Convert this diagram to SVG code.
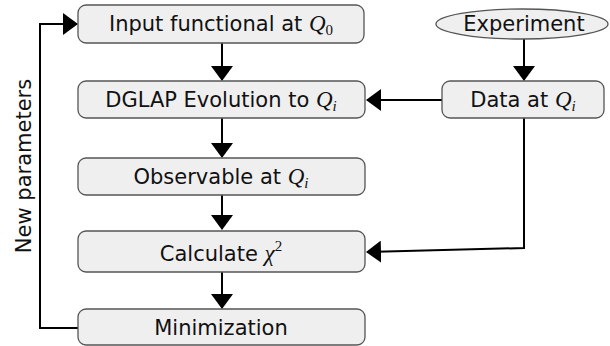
<svg xmlns="http://www.w3.org/2000/svg" width="610" height="346" viewBox="0 0 610 346">
<style>
.box{fill:#efefef;stroke:#555;stroke-width:1.3}
.t{font-family:"DejaVu Sans",sans-serif;font-size:21px;fill:#111;text-anchor:middle}
.m{font-family:"Liberation Serif",serif;font-style:italic;font-size:23px}
.sub{font-family:"Liberation Serif",serif;font-style:italic;font-size:15px}
.sub0{font-family:"Liberation Serif",serif;font-size:15px}
.c{fill:none;stroke:#000;stroke-width:2}
</style>
<defs>
<marker id="ah" markerUnits="userSpaceOnUse" markerWidth="15" markerHeight="22" viewBox="0 0 15 22" refX="14" refY="11" orient="auto">
<path d="M0,0 L15,11 L0,22 z" fill="#000"/>
</marker>
</defs>
<g id="connectors">
<line class="c" x1="222" y1="43" x2="222" y2="80" marker-end="url(#ah)"/>
<line class="c" x1="222" y1="118" x2="222" y2="157" marker-end="url(#ah)"/>
<line class="c" x1="222" y1="195" x2="222" y2="229" marker-end="url(#ah)"/>
<line class="c" x1="222" y1="272" x2="222" y2="308" marker-end="url(#ah)"/>
<line class="c" x1="524" y1="39" x2="524" y2="80" marker-end="url(#ah)"/>
<line class="c" x1="442" y1="100" x2="367" y2="100" marker-end="url(#ah)"/>
<polyline class="c" points="524,118 524,248 367,252" marker-end="url(#ah)"/>
<polyline class="c" points="78,328 40,328 40,24 77,24" marker-end="url(#ah)"/>
</g>
<g id="input">
<rect class="box" x="78" y="5" width="286" height="38" rx="8"/>
<text class="t" x="221" y="31">Input functional at <tspan class="m">Q</tspan><tspan class="sub0" dy="4">0</tspan></text>
</g>
<g id="dglap">
<rect class="box" x="78" y="81" width="287" height="37" rx="8"/>
<text class="t" x="221" y="107">DGLAP Evolution to <tspan class="m">Q</tspan><tspan class="sub" dy="4">i</tspan></text>
</g>
<g id="observable">
<rect class="box" x="78" y="158" width="287" height="37" rx="8"/>
<text class="t" x="221" y="184">Observable at <tspan class="m">Q</tspan><tspan class="sub" dy="4">i</tspan></text>
</g>
<g id="calculate">
<rect class="box" x="78" y="231" width="287" height="41" rx="8"/>
<text class="t" x="221" y="261">Calculate <tspan class="m">χ</tspan><tspan class="sub0" dy="-10">2</tspan></text>
</g>
<g id="minimization">
<rect class="box" x="78" y="309" width="287" height="36" rx="8"/>
<text class="t" x="221" y="335">Minimization</text>
</g>
<g id="experiment">
<ellipse class="box" cx="522" cy="24" rx="86" ry="15"/>
<text class="t" x="524" y="31">Experiment</text>
</g>
<g id="data">
<rect class="box" x="442" y="81" width="162" height="37" rx="8"/>
<text class="t" x="523" y="107">Data at <tspan class="m">Q</tspan><tspan class="sub" dy="4">i</tspan></text>
</g>
<g id="label">
<text class="t" transform="translate(31,166) rotate(-90)" x="0" y="0">New parameters</text>
</g>
</svg>
